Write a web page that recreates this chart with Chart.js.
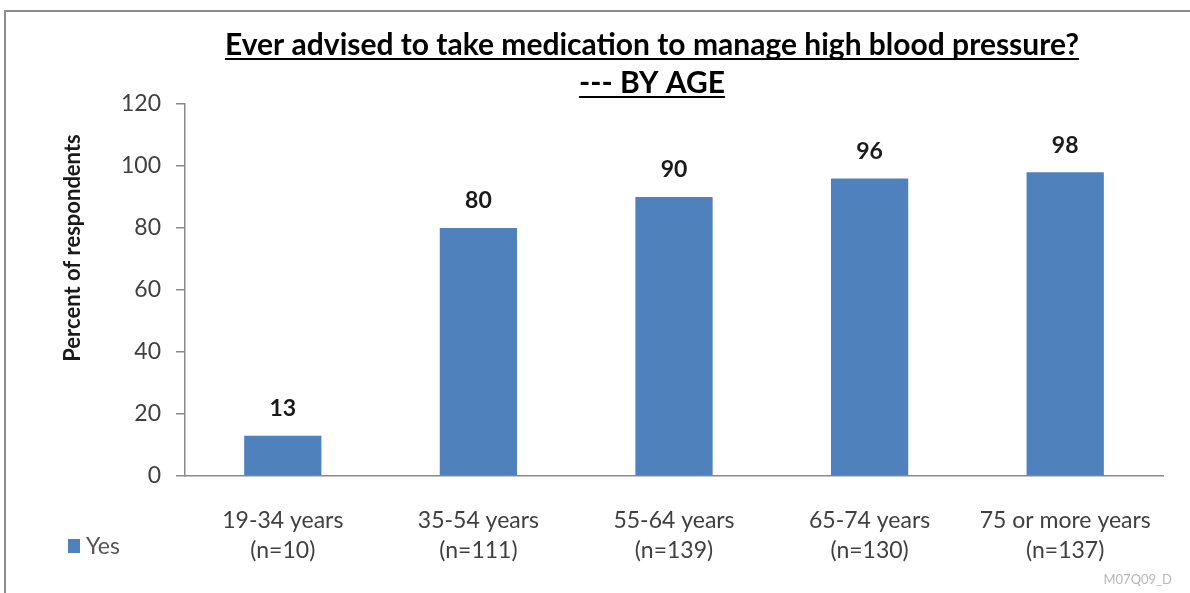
<!DOCTYPE html>
<html>
<head>
<meta charset="utf-8">
<title>Ever advised to take medication to manage high blood pressure? By age</title>
<script src="https://cdn.jsdelivr.net/npm/chart.js@4/dist/chart.umd.min.js"></script>
<style>
    html, body { margin: 0; padding: 0; background: #fff; overflow: hidden; }
    #frame {
        position: absolute; left: 4px; top: 10px; width: 1200px; height: 600px;
        border-top: 2px solid #8c8c8c; border-left: 2px solid #8c8c8c;
    }
    #wrap { position: absolute; left: 0; top: 0; width: 1190px; height: 593px; }
</style>
</head>
<body>
<div id="frame"></div>
<div id="wrap"><canvas id="chart" width="1190" height="593"></canvas></div>
<script>
// Chart data
const titleLines = ["Ever advised to take medication to manage high blood pressure?", "--- BY AGE"];
const categories = [
    ["19-34 years", "(n=10)"],
    ["35-54 years", "(n=111)"],
    ["55-64 years", "(n=139)"],
    ["65-74 years", "(n=130)"],
    ["75 or more years", "(n=137)"],
];
const seriesLabel = "Yes";
const yesValues = [13, 80, 90, 96, 98];
const yAxisTitle = "Percent of respondents";
const yMin = 0;
const yMax = 120;
const yStep = 20;
const footnote = "M07Q09_D";

const FONT = "Lato, 'Liberation Sans', sans-serif";
const BAR_COLOR = "#4F81BD";
const AXIS_COLOR = "#8a8a8a";
const TEXT_GRAY = "#404040";

/**
 * Draws the underlined two-line title
 */
const underlinedTitle = {
    id: "underlinedTitle",
    afterDraw(chart) {
        const ctx = chart.ctx;
        const cx = 652;
        const baselines = [55, 93];
        ctx.save();
        ctx.font = `bold 30px ${FONT}`;
        ctx.fillStyle = "#000";
        ctx.strokeStyle = "#000";
        ctx.lineWidth = 2;
        ctx.textAlign = "center";
        ctx.textBaseline = "alphabetic";
        titleLines.forEach((line, i) => {
            ctx.fillText(line, cx, baselines[i]);
            const w = ctx.measureText(line).width;
            ctx.beginPath();
            ctx.moveTo(cx - w / 2, baselines[i] + 4);
            ctx.lineTo(cx + w / 2, baselines[i] + 4);
            ctx.stroke();
        });
        ctx.restore();
    },
};

/**
 * Writes each bar's value above it
 */
const valueLabels = {
    id: "valueLabels",
    afterDatasetsDraw(chart) {
        const ctx = chart.ctx;
        const meta = chart.getDatasetMeta(0);
        ctx.save();
        ctx.font = `bold 23px ${FONT}`;
        ctx.fillStyle = "#1a1a1a";
        ctx.textAlign = "center";
        ctx.textBaseline = "middle";
        meta.data.forEach((bar, i) => {
            ctx.fillText(String(chart.data.datasets[0].data[i]), bar.x, bar.y - 27);
        });
        ctx.restore();
    },
};

/**
 * Y axis title, legend at bottom-left and footnote code
 */
const sideTexts = {
    id: "sideTexts",
    afterDraw(chart) {
        const ctx = chart.ctx;
        const ds = chart.data.datasets[0];
        ctx.save();

        // Y axis title
        ctx.save();
        ctx.translate(73, 248);
        ctx.rotate(-Math.PI / 2);
        ctx.font = `bold 22px ${FONT}`;
        ctx.fillStyle = "#1a1a1a";
        ctx.textAlign = "center";
        ctx.textBaseline = "middle";
        ctx.fillText(yAxisTitle, 0, 0);
        ctx.restore();

        // Legend
        ctx.fillStyle = ds.backgroundColor;
        ctx.fillRect(68, 539, 12, 14);
        ctx.font = `23px ${FONT}`;
        ctx.fillStyle = "#555";
        ctx.textAlign = "left";
        ctx.textBaseline = "middle";
        ctx.fillText(ds.label, 86, 547);

        // Footnote code
        ctx.font = `13px ${FONT}`;
        ctx.fillStyle = "#b8b8b8";
        ctx.textAlign = "right";
        ctx.fillText(footnote, 1172, 580);
        ctx.restore();
    },
};

new Chart(document.getElementById("chart"), {
    type: "bar",
    data: {
        labels: categories,
        datasets: [
            {
                label: seriesLabel,
                data: yesValues,
                backgroundColor: BAR_COLOR,
                borderWidth: 0,
                barPercentage: 0.79,
                categoryPercentage: 0.5,
            },
        ],
    },
    options: {
        responsive: false,
        animation: false,
        layout: { padding: { left: 0, right: 27, top: 104, bottom: 0 } },
        plugins: {
            legend: { display: false },
            title: { display: false },
            tooltip: { enabled: false },
        },
        scales: {
            x: {
                grid: { display: false, drawTicks: false },
                border: { display: true, color: AXIS_COLOR, width: 1.5 },
                ticks: {
                    color: TEXT_GRAY,
                    font: { family: FONT, size: 23, lineHeight: 1.3 },
                    padding: 30,
                    maxRotation: 0,
                    autoSkip: false,
                },
                afterFit: (scale) => {
                    scale.height = 117;
                },
            },
            y: {
                min: yMin,
                max: yMax,
                grid: { drawOnChartArea: false, color: AXIS_COLOR, tickLength: 9, lineWidth: 1.5 },
                border: { display: true, color: AXIS_COLOR, width: 1.5 },
                ticks: {
                    stepSize: yStep,
                    color: TEXT_GRAY,
                    font: { family: FONT, size: 23 },
                    padding: 15,
                },
                afterFit: (scale) => {
                    scale.width = 185;
                },
            },
        },
    },
    plugins: [underlinedTitle, valueLabels, sideTexts],
});
</script>
</body>
</html>
